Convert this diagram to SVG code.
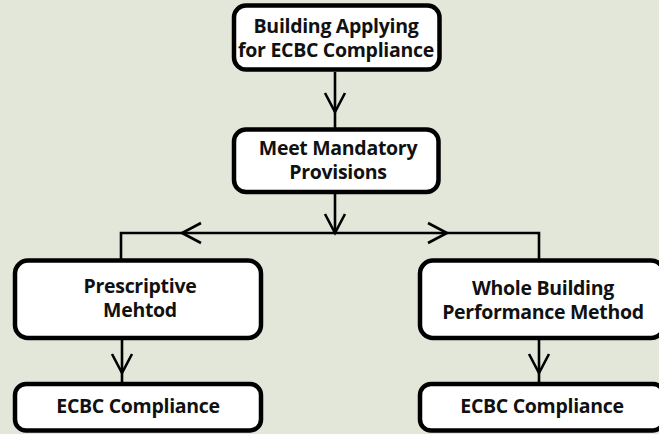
<svg xmlns="http://www.w3.org/2000/svg" width="659" height="434" viewBox="0 0 659 434">
<defs>
<style>
.box{fill:#ffffff;stroke:#000000;stroke-width:4.5}
.lbl{font-family:"Open Sans","Liberation Sans",Arial,sans-serif;font-weight:bold;font-size:19.5px;fill:#111111;text-anchor:middle;letter-spacing:-0.3px}
.con{fill:none;stroke:#000000;stroke-width:2.6}
</style>
<marker id="vhead" markerUnits="userSpaceOnUse" markerWidth="24" markerHeight="24" refX="20" refY="11" orient="auto" overflow="visible">
<path d="M1,1 L20,11 L1,21" fill="none" stroke="#000000" stroke-width="2.6"/>
</marker>
</defs>
<rect x="0" y="0" width="659" height="434" fill="#e2e7da"/>
<g id="connectors">
<path class="con" d="M335,72 V112" marker-end="url(#vhead)"/>
<path class="con" d="M335,112 V128"/>
<path class="con" d="M335,194 V233" marker-end="url(#vhead)"/>
<path class="con" d="M335,233 H182" marker-end="url(#vhead)"/>
<path class="con" d="M182,233 H121 V259"/>
<path class="con" d="M335,233 H447" marker-end="url(#vhead)"/>
<path class="con" d="M447,233 H539 V259"/>
<path class="con" d="M122,340 V373" marker-end="url(#vhead)"/>
<path class="con" d="M122,373 V383"/>
<path class="con" d="M539,340 V373" marker-end="url(#vhead)"/>
<path class="con" d="M539,373 V383"/>
</g>
<g id="n-start">
<rect class="box" x="234" y="5.5" width="205.5" height="64" rx="12"/>
<text class="lbl" x="336" y="33">Building Applying</text>
<text class="lbl" x="336" y="57">for ECBC Compliance</text>
</g>
<g id="n-mandatory">
<rect class="box" x="234" y="129.5" width="204.5" height="62.5" rx="12"/>
<text class="lbl" x="338" y="155">Meet Mandatory</text>
<text class="lbl" x="338" y="179">Provisions</text>
</g>
<g id="n-prescriptive">
<rect class="box" x="15" y="260.5" width="246" height="77.5" rx="13"/>
<text class="lbl" x="140" y="293">Prescriptive</text>
<text class="lbl" x="140" y="317">Mehtod</text>
</g>
<g id="n-wbp">
<rect class="box" x="420" y="260.5" width="244" height="77.5" rx="13"/>
<text class="lbl" x="543" y="295">Whole Building</text>
<text class="lbl" x="543" y="319">Performance Method</text>
</g>
<g id="n-ecbc-left">
<rect class="box" x="15" y="384" width="246" height="46.5" rx="11"/>
<text class="lbl" x="138" y="413">ECBC Compliance</text>
</g>
<g id="n-ecbc-right">
<rect class="box" x="420" y="384" width="244" height="46.5" rx="11"/>
<text class="lbl" x="542" y="413">ECBC Compliance</text>
</g>
</svg>
